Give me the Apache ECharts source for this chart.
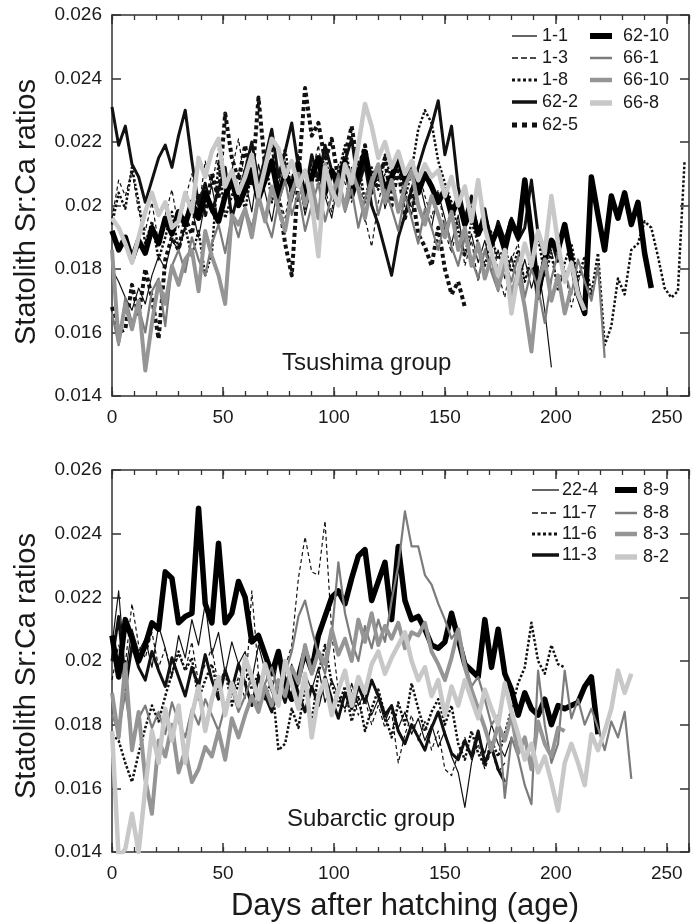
<!DOCTYPE html>
<html><head><meta charset="utf-8">
<script src="https://cdn.jsdelivr.net/npm/echarts@6/dist/echarts.min.js"></script>
<style>html,body{margin:0;padding:0;background:#fff}#c{width:700px;height:924px}</style>
</head><body><div id="c"></div>
<script>
// ---- data ----
const days = [0,3,6,9,12,15,18,21,24,27,30,33,36,39,42,45,48,51,54,57,60,63,66,69,72,75,78,81,84,87,90,93,96,99,102,105,108,111,114,117,120,123,126,129,132,135,138,141,144,147,150,153,156,159,162,165,168,171,174,177,180,183,186,189,192,195,198,201,204,207,210,213,216,219,222,225,228,231,234,237,240,243,246,249,252,255,258];
const xTickLabels = [0,50,100,150,200,250];
const yTickLabels = [0.014,0.016,0.018,0.02,0.022,0.024,0.026];

// Tsushima group
const t1_1 = [0.0180,0.0176,0.0171,0.0167,0.0174,0.0169,0.0178,0.0184,0.0180,0.0189,
0.0186,0.0194,0.0199,0.0190,0.0201,0.0206,0.0195,0.0203,0.0211,0.0200,
0.0208,0.0198,0.0213,0.0204,0.0195,0.0207,0.0214,0.0201,0.0209,0.0197,
0.0206,0.0215,0.0203,0.0196,0.0208,0.0200,0.0212,0.0205,0.0195,0.0207,
0.0213,0.0199,0.0206,0.0216,0.0204,0.0197,0.0209,0.0200,0.0193,0.0204,
0.0196,0.0188,0.0197,0.0184,0.0191,0.0182,0.0189,0.0179,0.0186,0.0177,
0.0184,0.0175,0.0183,0.0174,0.0181,0.0167,0.0149];
const t1_3 = [0.0196,0.0208,0.0203,0.0211,0.0198,0.0192,0.0201,0.0188,0.0197,0.0205,
0.0193,0.0202,0.0210,0.0198,0.0214,0.0206,0.0218,0.0203,0.0211,0.0221,
0.0207,0.0215,0.0200,0.0212,0.0218,0.0204,0.0196,0.0209,0.0216,0.0202,
0.0210,0.0219,0.0205,0.0198,0.0213,0.0207,0.0201,0.0212,0.0196,0.0187,
0.0201,0.0210,0.0204,0.0215,0.0206,0.0199,0.0211,0.0203,0.0196,0.0205,
0.0192,0.0185,0.0195,0.0181,0.0189,0.0176,0.0186,0.0192,0.0179,0.0171,
0.0183,0.0188,0.0176,0.0182,0.0170,0.0179,0.0186,0.0174,0.0180,0.0168,
0.0176,0.0181];
const t1_8 = [0.0194,0.0204,0.0199,0.0212,0.0201,0.0188,0.0195,0.0183,0.0190,0.0198,
0.0186,0.0193,0.0184,0.0192,0.0178,0.0185,0.0214,0.0196,0.0203,0.0210,
0.0198,0.0212,0.0205,0.0216,0.0201,0.0209,0.0218,0.0204,0.0211,0.0199,
0.0213,0.0206,0.0217,0.0203,0.0210,0.0219,0.0207,0.0214,0.0201,0.0212,
0.0205,0.0216,0.0208,0.0213,0.0202,0.0211,0.0224,0.0230,0.0226,0.0214,
0.0207,0.0201,0.0192,0.0184,0.0195,0.0188,0.0181,0.0190,0.0183,0.0187,
0.0179,0.0186,0.0176,0.0184,0.0190,0.0178,0.0185,0.0173,0.0182,0.0188,
0.0177,0.0184,0.0172,0.0185,0.0156,0.0162,0.0177,0.0172,0.0186,0.0188,
0.0195,0.0193,0.0184,0.0174,0.0171,0.0173,0.0214];
const t62_2 = [0.0231,0.0219,0.0225,0.0213,0.0209,0.0201,0.0208,0.0215,0.0219,0.0212,
0.0222,0.0230,0.0214,0.0200,0.0207,0.0198,0.0205,0.0212,0.0196,0.0204,
0.0211,0.0220,0.0207,0.0215,0.0224,0.0209,0.0217,0.0226,0.0212,0.0204,
0.0216,0.0208,0.0219,0.0211,0.0203,0.0214,0.0221,0.0206,0.0213,0.0200,
0.0194,0.0186,0.0178,0.0190,0.0197,0.0205,0.0212,0.0219,0.0225,0.0233,
0.0216,0.0225,0.0206,0.0196,0.0203,0.0191,0.0199,0.0187,0.0195,0.0189,
0.0196,0.0189,0.0193,0.0208,0.0191,0.0184,0.0189,0.0182];
const t62_5 = [0.0168,0.0160,0.0161,0.0175,0.0165,0.0180,0.0171,0.0158,0.0183,0.0190,
0.0186,0.0196,0.0191,0.0204,0.0197,0.0210,0.0202,0.0229,0.0215,0.0208,
0.0219,0.0206,0.0234,0.0212,0.0221,0.0203,0.0188,0.0178,0.0209,0.0237,
0.0222,0.0226,0.0214,0.0221,0.0208,0.0216,0.0225,0.0211,0.0219,0.0204,
0.0207,0.0215,0.0200,0.0212,0.0196,0.0205,0.0191,0.0187,0.0181,0.0193,
0.0180,0.0172,0.0176,0.0168];
const t62_10 = [0.0192,0.0186,0.0190,0.0183,0.0189,0.0185,0.0193,0.0188,0.0196,0.0191,
0.0198,0.0194,0.0201,0.0196,0.0204,0.0199,0.0195,0.0203,0.0208,0.0200,
0.0205,0.0211,0.0202,0.0208,0.0214,0.0203,0.0210,0.0206,0.0213,0.0201,
0.0209,0.0215,0.0204,0.0211,0.0207,0.0214,0.0203,0.0210,0.0217,0.0206,
0.0212,0.0205,0.0209,0.0215,0.0208,0.0213,0.0204,0.0210,0.0206,0.0201,
0.0205,0.0197,0.0202,0.0194,0.0199,0.0191,0.0196,0.0188,0.0193,0.0186,
0.0195,0.0190,0.0208,0.0191,0.0172,0.0183,0.0189,0.0186,0.0194,0.0183,
0.0172,0.0166,0.0209,0.0197,0.0186,0.0203,0.0196,0.0204,0.0194,0.0201,
0.0185,0.0174];
const t66_1 = [0.0166,0.0156,0.0171,0.0163,0.0168,0.0160,0.0173,0.0177,0.0162,0.0181,
0.0186,0.0179,0.0190,0.0183,0.0178,0.0188,0.0194,0.0185,0.0197,0.0190,
0.0199,0.0193,0.0203,0.0196,0.0190,0.0201,0.0208,0.0197,0.0204,0.0192,
0.0200,0.0207,0.0195,0.0203,0.0210,0.0198,0.0205,0.0193,0.0202,0.0209,
0.0197,0.0205,0.0199,0.0192,0.0203,0.0196,0.0188,0.0199,0.0193,0.0186,
0.0195,0.0187,0.0181,0.0190,0.0183,0.0177,0.0186,0.0179,0.0173,0.0182,
0.0176,0.0184,0.0171,0.0180,0.0174,0.0163,0.0177,0.0185,0.0179,0.0172,
0.0183,0.0176,0.0170,0.0181,0.0152];
const t66_10 = [0.0186,0.0157,0.0169,0.0161,0.0170,0.0148,0.0163,0.0176,0.0169,0.0181,
0.0175,0.0183,0.0186,0.0173,0.0192,0.0184,0.0178,0.0169,0.0197,0.0194,
0.0199,0.0190,0.0203,0.0195,0.0206,0.0199,0.0192,0.0204,0.0210,0.0200,
0.0207,0.0196,0.0213,0.0203,0.0208,0.0199,0.0211,0.0205,0.0196,0.0207,
0.0213,0.0201,0.0208,0.0198,0.0206,0.0211,0.0200,0.0194,0.0203,0.0197,
0.0190,0.0198,0.0186,0.0193,0.0181,0.0188,0.0177,0.0184,0.0174,0.0182,
0.0172,0.0179,0.0168,0.0154,0.0175,0.0183,0.0170,0.0178,0.0166,0.0174];
const t66_8 = [0.0196,0.0193,0.0188,0.0182,0.0190,0.0198,0.0204,0.0197,0.0201,0.0193,
0.0195,0.0204,0.0198,0.0215,0.0209,0.0217,0.0221,0.0206,0.0211,0.0204,
0.0209,0.0216,0.0203,0.0212,0.0221,0.0218,0.0209,0.0214,0.0206,0.0211,
0.0201,0.0184,0.0212,0.0205,0.0200,0.0213,0.0207,0.0219,0.0232,0.0225,
0.0215,0.0220,0.0212,0.0217,0.0210,0.0214,0.0208,0.0213,0.0209,0.0211,
0.0203,0.0209,0.0200,0.0206,0.0195,0.0208,0.0193,0.0185,0.0178,0.0186,
0.0166,0.0179,0.0188,0.0181,0.0192,0.0185,0.0203,0.0188,0.0176,0.0182,
0.0172,0.0167];

// Subarctic group
const s22_4 = [0.0205,0.0222,0.0196,0.0210,0.0203,0.0207,0.0198,0.0211,0.0204,0.0195,
0.0208,0.0201,0.0213,0.0205,0.0218,0.0202,0.0209,0.0196,0.0206,0.0199,
0.0203,0.0194,0.0205,0.0197,0.0190,0.0201,0.0193,0.0199,0.0188,0.0196,
0.0191,0.0198,0.0187,0.0194,0.0189,0.0185,0.0193,0.0186,0.0190,0.0183,
0.0188,0.0181,0.0186,0.0179,0.0184,0.0177,0.0182,0.0175,0.0180,0.0173,
0.0178,0.0170,0.0165,0.0154,0.0168,0.0176,0.0171,0.0180,0.0174,0.0170,
0.0176];
const s11_7 = [0.0194,0.0205,0.0199,0.0218,0.0205,0.0201,0.0209,0.0198,0.0204,0.0196,
0.0202,0.0197,0.0206,0.0193,0.0199,0.0204,0.0192,0.0198,0.0189,0.0195,
0.0188,0.0222,0.0196,0.0190,0.0185,0.0191,0.0198,0.0205,0.0226,0.0239,
0.0228,0.0227,0.0244,0.0209,0.0190,0.0184,0.0191,0.0183,0.0188,0.0180,
0.0186,0.0179,0.0184,0.0168,0.0177,0.0183,0.0175,0.0181,0.0172,0.0178,
0.0166,0.0164,0.0171,0.0176,0.0169,0.0174,0.0166,0.0172,0.0165,0.0168];
const s11_6 = [0.0177,0.0175,0.0168,0.0162,0.0171,0.0179,0.0186,0.0181,0.0189,0.0196,
0.0203,0.0197,0.0201,0.0188,0.0194,0.0199,0.0190,0.0197,0.0186,0.0193,
0.0199,0.0191,0.0196,0.0188,0.0194,0.0172,0.0174,0.0185,0.0179,0.0192,
0.0181,0.0196,0.0205,0.0193,0.0186,0.0192,0.0181,0.0189,0.0178,0.0185,
0.0191,0.0183,0.0176,0.0187,0.0180,0.0193,0.0185,0.0178,0.0184,0.0188,
0.0180,0.0186,0.0174,0.0169,0.0178,0.0171,0.0167,0.0175,0.0170,0.0177,
0.0185,0.0193,0.0198,0.0212,0.0200,0.0196,0.0205,0.0199,0.0198];
const s11_3 = [0.0200,0.0214,0.0191,0.0205,0.0198,0.0194,0.0203,0.0197,0.0192,0.0201,
0.0195,0.0189,0.0198,0.0192,0.0202,0.0194,0.0188,0.0197,0.0191,0.0199,
0.0193,0.0186,0.0195,0.0189,0.0184,0.0193,0.0187,0.0196,0.0190,0.0184,
0.0192,0.0186,0.0195,0.0188,0.0182,0.0190,0.0185,0.0192,0.0187,0.0194,
0.0189,0.0183,0.0186,0.0178,0.0174,0.0180,0.0176,0.0172,0.0179,0.0184,
0.0177,0.0171,0.0169,0.0175,0.0170,0.0178,0.0168,0.0173,0.0166,0.0162];
const s8_9 = [0.0208,0.0195,0.0213,0.0207,0.0200,0.0205,0.0212,0.0210,0.0228,0.0226,
0.0212,0.0214,0.0215,0.0248,0.0218,0.0212,0.0237,0.0212,0.0215,0.0225,
0.0220,0.0206,0.0208,0.0202,0.0196,0.0203,0.0192,0.0188,0.0195,0.0203,
0.0197,0.0208,0.0214,0.0220,0.0222,0.0218,0.0226,0.0233,0.0235,0.0219,
0.0225,0.0231,0.0213,0.0236,0.0219,0.0213,0.0214,0.0210,0.0205,0.0204,
0.0206,0.0215,0.0207,0.0199,0.0197,0.0195,0.0213,0.0198,0.0210,0.0196,
0.0191,0.0183,0.0190,0.0185,0.0183,0.0188,0.0180,0.0186,0.0185,0.0186,
0.0187,0.0192,0.0195,0.0177];
const s8_8 = [0.0183,0.0178,0.0190,0.0175,0.0182,0.0186,0.0179,0.0184,0.0177,0.0187,
0.0181,0.0176,0.0185,0.0180,0.0188,0.0183,0.0178,0.0186,0.0191,0.0184,
0.0189,0.0195,0.0186,0.0193,0.0198,0.0190,0.0196,0.0203,0.0214,0.0219,
0.0210,0.0202,0.0196,0.0208,0.0231,0.0215,0.0206,0.0200,0.0211,0.0204,
0.0213,0.0206,0.0219,0.0230,0.0247,0.0236,0.0236,0.0227,0.0224,0.0218,
0.0213,0.0207,0.0210,0.0200,0.0192,0.0195,0.0188,0.0180,0.0183,0.0157,
0.0176,0.0170,0.0161,0.0155,0.0197,0.0180,0.0168,0.0174,0.0197,0.0182,
0.0188,0.0180,0.0185,0.0179,0.0172,0.0181,0.0176,0.0184,0.0163];
const s8_3 = [0.0190,0.0176,0.0199,0.0172,0.0184,0.0163,0.0152,0.0175,0.0170,0.0180,
0.0165,0.0172,0.0162,0.0166,0.0173,0.0170,0.0178,0.0169,0.0182,0.0176,
0.0183,0.0189,0.0184,0.0192,0.0186,0.0194,0.0189,0.0198,0.0193,0.0205,
0.0196,0.0203,0.0199,0.0210,0.0202,0.0207,0.0200,0.0213,0.0206,0.0215,
0.0205,0.0211,0.0207,0.0212,0.0204,0.0209,0.0208,0.0212,0.0203,0.0199,
0.0194,0.0201,0.0210,0.0198,0.0191,0.0185,0.0179,0.0172,0.0180,0.0175,
0.0183,0.0171,0.0176,0.0166,0.0181,0.0174,0.0170,0.0179,0.0178];
const s8_2 = [0.0178,0.0138,0.0141,0.0152,0.0140,0.0160,0.0178,0.0168,0.0185,0.0175,
0.0186,0.0168,0.0183,0.0192,0.0178,0.0188,0.0195,0.0183,0.0193,0.0186,
0.0201,0.0195,0.0188,0.0199,0.0192,0.0186,0.0200,0.0193,0.0185,0.0196,
0.0176,0.0189,0.0194,0.0183,0.0191,0.0197,0.0186,0.0195,0.0190,0.0199,
0.0203,0.0196,0.0201,0.0205,0.0209,0.0200,0.0194,0.0198,0.0189,0.0194,
0.0183,0.0192,0.0186,0.0194,0.0188,0.0182,0.0191,0.0185,0.0180,0.0193,
0.0184,0.0177,0.0169,0.0174,0.0165,0.0170,0.0162,0.0153,0.0168,0.0174,
0.0168,0.0161,0.0177,0.0172,0.0178,0.0185,0.0197,0.0190,0.0196];

const topNames = ['1-1','1-3','1-8','62-2','62-5','62-10','66-1','66-10','66-8'];
const topValues = [t1_1,t1_3,t1_8,t62_2,t62_5,t62_10,t66_1,t66_10,t66_8];
const botNames = ['22-4','11-7','11-6','11-3','8-9','8-8','8-3','8-2'];
const botValues = [s22_4,s11_7,s11_6,s11_3,s8_9,s8_8,s8_3,s8_2];

// ---- styles ----
const FONT = '"Liberation Sans", Arial, Helvetica, sans-serif';
const ST = {
  thin:   {color:'#111', width:1.2, type:'solid'},
  dash:   {color:'#111', width:1.2, type:[4,3]},
  dot:    {color:'#111', width:2.5, type:[2.5,2]},
  black3: {color:'#111', width:3, type:'solid'},
  sq:     {color:'#111', width:4, type:[4,3]},
  black5: {color:'#000', width:5.5, type:'solid'},
  grey2:  {color:'#7c7c7c', width:2.2, type:'solid'},
  grey4:  {color:'#959595', width:4, type:'solid'},
  light4: {color:'#c8c8c8', width:4.5, type:'solid'}
};
const topStyles = [ST.thin,ST.dash,ST.dot,ST.black3,ST.sq,ST.black5,ST.grey2,ST.grey4,ST.light4];
const botStyles = [ST.thin,ST.dash,ST.dot,ST.black3,ST.black5,ST.grey2,ST.grey4,ST.light4];

const AX = '#333';
function xAxes(g){
  const base = {gridIndex:g, type:'value', min:0, max:260, splitLine:{show:false}};
  return [
    Object.assign({}, base, {position:'bottom', interval:50,
      axisLine:{show:true,onZero:false,lineStyle:{color:AX,width:1.5}},
      axisTick:{inside:true,length:9,lineStyle:{color:AX,width:1.5}},
      axisLabel:{show:true,margin:12,fontSize:19,color:'#1a1a1a',fontFamily:FONT,
        formatter:v=> xTickLabels.indexOf(v)>=0 ? String(v) : ''}}),
    Object.assign({}, base, {position:'bottom', interval:10,
      axisLine:{show:false,onZero:false}, axisLabel:{show:false},
      axisTick:{inside:true,length:5,lineStyle:{color:AX,width:1.3}}}),
    Object.assign({}, base, {position:'top', interval:50,
      axisLine:{show:true,onZero:false,lineStyle:{color:AX,width:1.5}}, axisLabel:{show:false},
      axisTick:{inside:true,length:9,lineStyle:{color:AX,width:1.5}}}),
    Object.assign({}, base, {position:'top', interval:10,
      axisLine:{show:false,onZero:false}, axisLabel:{show:false},
      axisTick:{inside:true,length:5,lineStyle:{color:AX,width:1.3}}})
  ];
}
function yAxes(g){
  const base = {gridIndex:g, type:'value', min:0.014, max:0.026, interval:0.002, splitLine:{show:false}};
  return [
    Object.assign({}, base, {position:'left',
      axisLine:{show:true,onZero:false,lineStyle:{color:AX,width:1.5}},
      axisTick:{inside:true,length:9,lineStyle:{color:AX,width:1.5}},
      axisLabel:{margin:10,fontSize:19,color:'#1a1a1a',fontFamily:FONT,
        formatter:v=>{const m=yTickLabels.find(t=>Math.abs(t-v)<1e-9);return m===undefined?'':String(m);}}}),
    Object.assign({}, base, {position:'right',
      axisLine:{show:true,onZero:false,lineStyle:{color:AX,width:1.5}}, axisLabel:{show:false},
      axisTick:{inside:true,length:9,lineStyle:{color:AX,width:1.5}}})
  ];
}

const series = [];
function addSeries(names, vals, styles, g){
  names.forEach((n,k)=>{
    series.push({type:'line', name:n, xAxisIndex:g*4, yAxisIndex:g*2,
      data: vals[k].map((v,i)=>[days[i], v]),
      symbol:'none', clip:true, silent:true, animation:false, z:2+k,
      lineStyle:{color:styles[k].color, width:styles[k].width, type:styles[k].type, join:'round', cap:'butt'}});
  });
}
addSeries(topNames, topValues, topStyles, 0);
addSeries(botNames, botValues, botStyles, 1);

// ---- legends drawn as graphic ----
const graphic = [];
function legItem(name, st, x1, x2, tx, y, legW, dash){
  graphic.push({type:'line', shape:{x1:x1,y1:y,x2:x2,y2:y}, z:100,
    style:{stroke:st.color, lineWidth:legW, lineDash:dash||null, lineCap:'butt'}});
  graphic.push({type:'text', x:tx, y:y, z:100,
    style:{text:name, font:'18px '+FONT, fill:'#1a1a1a', verticalAlign:'middle', align:'left'}});
}
const legW = [1.3,1.5,3,3.5,5,6,2.5,4.5,5.5];
const legDash = [null,[6,3],[3,2.5],null,[5,5],null,null,null,null];
[[0,36],[1,58],[2,80],[3,102],[4,125]].forEach(([k,y])=>legItem(topNames[k], topStyles[k], 512, 537, 542, y, legW[k], legDash[k]));
[[5,36],[6,58],[7,80],[8,103]].forEach(([k,y])=>legItem(topNames[k], topStyles[k], 590, 612, 623, y, legW[k], legDash[k]));
const bw = [1.3,1.5,3,3.5,6,2.5,4.5,5.5];
const bd = [null,[6,3],[3,2.5],null,null,null,null,null];
[[0,490],[1,513],[2,534],[3,555]].forEach(([k,y])=>legItem(botNames[k], botStyles[k], 532, 559, 562, y, bw[k], bd[k]));
[[4,490],[5,513],[6,534],[7,557]].forEach(([k,y])=>legItem(botNames[k], botStyles[k], 615, 637, 643, y, bw[k], bd[k]));

// texts
graphic.push({type:'text', x:282, y:363, z:100, style:{text:'Tsushima group', font:'24px '+FONT, fill:'#1a1a1a', verticalAlign:'middle'}});
graphic.push({type:'text', x:287, y:819, z:100, style:{text:'Subarctic group', font:'24px '+FONT, fill:'#1a1a1a', verticalAlign:'middle'}});
graphic.push({type:'text', x:27, y:212, rotation:Math.PI/2, z:100, style:{text:'Statolith Sr:Ca ratios', font:'29px '+FONT, fill:'#1a1a1a', align:'center', verticalAlign:'middle'}});
graphic.push({type:'text', x:27, y:666, rotation:Math.PI/2, z:100, style:{text:'Statolith Sr:Ca ratios', font:'29px '+FONT, fill:'#1a1a1a', align:'center', verticalAlign:'middle'}});
graphic.push({type:'text', x:405, y:906, z:100, style:{text:'Days after hatching (age)', font:'31px '+FONT, fill:'#1a1a1a', align:'center', verticalAlign:'middle'}});

const chart = echarts.init(document.getElementById('c'), null, {renderer:'canvas'});
chart.setOption({
  animation:false,
  backgroundColor:'#fff',
  grid:[{left:112, top:15, width:577, height:381},{left:112, top:470, width:577, height:382}],
  xAxis:[].concat(xAxes(0), xAxes(1)),
  yAxis:[].concat(yAxes(0), yAxes(1)),
  series:series,
  graphic:graphic
});
</script></body></html>
